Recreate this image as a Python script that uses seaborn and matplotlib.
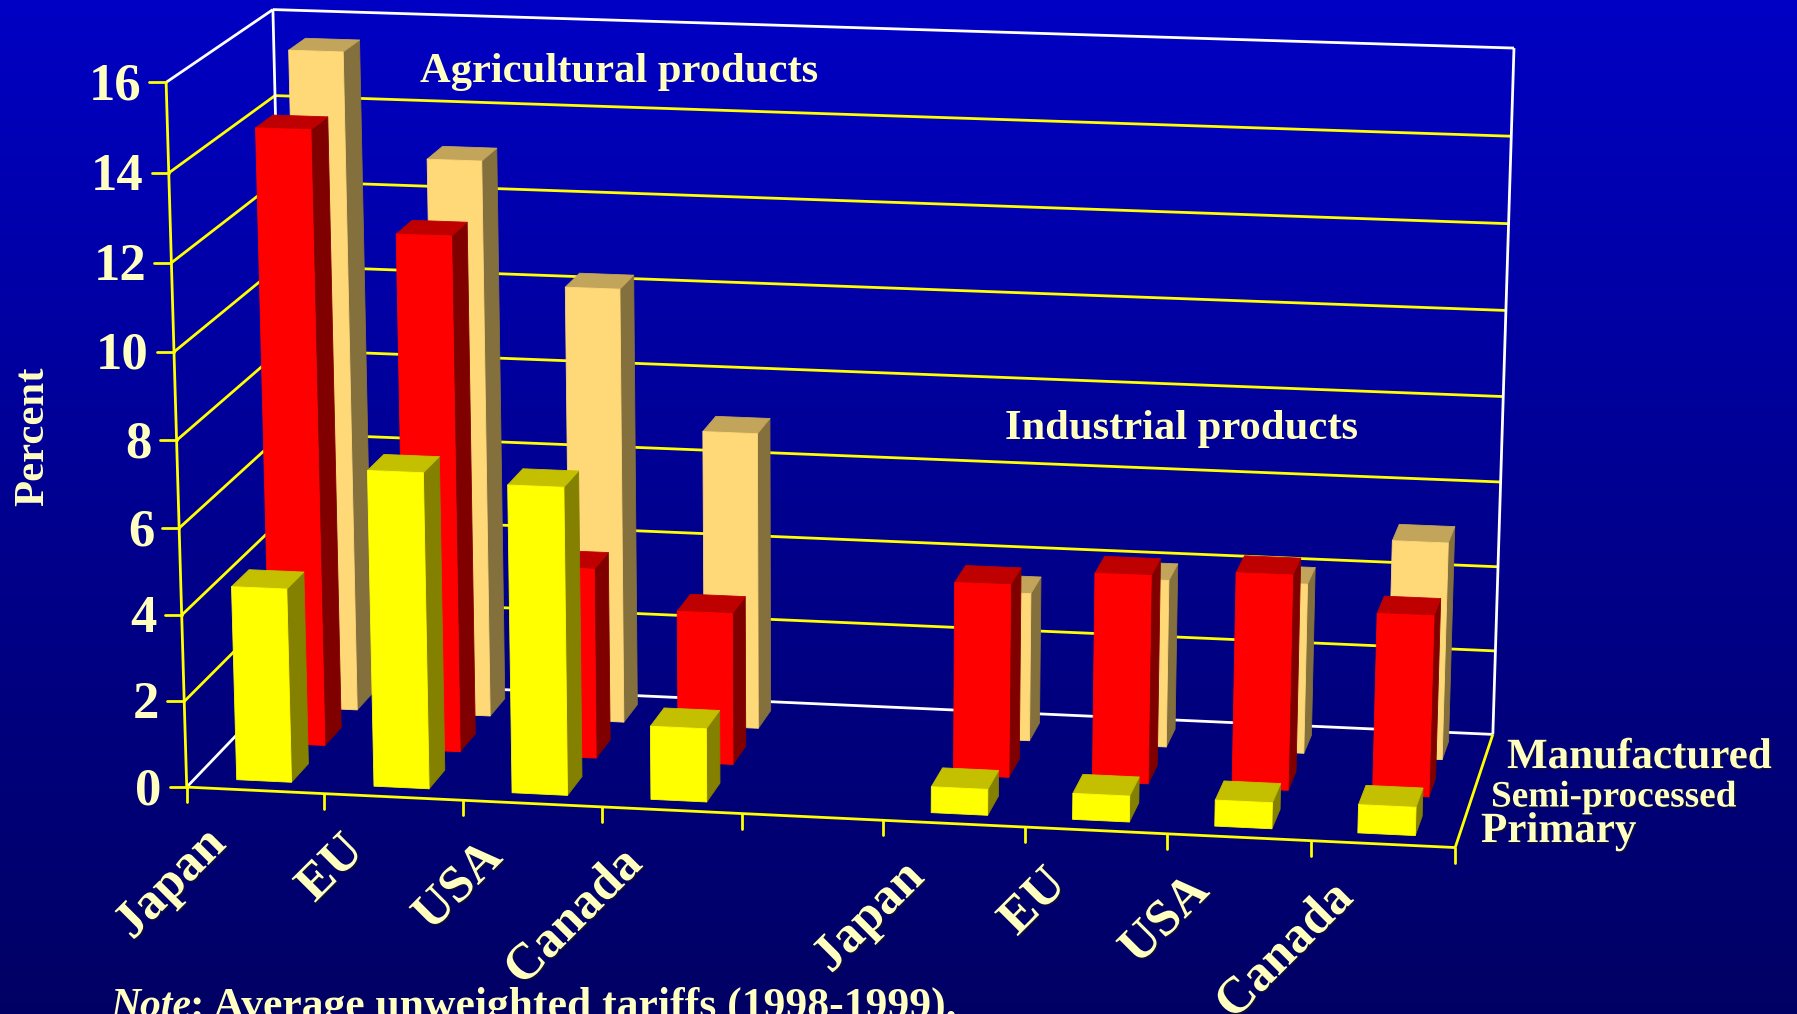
import numpy as np
import pandas as pd
import matplotlib
matplotlib.use('Agg')
import matplotlib.pyplot as plt
import matplotlib.patheffects as pe
from matplotlib.colors import LinearSegmentedColormap
from matplotlib.transforms import IdentityTransform
import seaborn as sns

# values (percent)
countries = ['Japan', 'EU', 'USA', 'Canada']
stages = ['Primary', 'Semi-processed', 'Manufactured']
agri_primary = [4.5, 7.3, 7.1, 1.7]
agri_semi = [14.3, 12.0, 4.45, 3.55]
agri_manuf = [15.5, 13.1, 10.25, 7.0]
ind_primary = [0.6, 0.6, 0.6, 0.65]
ind_semi = [4.5, 4.85, 5.0, 4.2]
ind_manuf = [3.5, 3.95, 4.0, 5.1]
y_ticks = [0, 2, 4, 6, 8, 10, 12, 14, 16]

W, H = 1797, 1014
TXT = '#FFFFC0'

sns.set_theme(style='white')
plt.rcParams['font.family'] = ['Liberation Serif', 'DejaVu Serif']
plt.rcParams['font.weight'] = 'bold'
palette = sns.color_palette(['#FFFF00', '#FF0000', '#FFD878'])
tops = ['#C4C000', '#BE0000', '#C2A55A']
sides = ['#848000', '#800000', '#84703C']

rows = []
for group, slots, series in [('Agri', [0, 1, 2, 3], [agri_primary, agri_semi, agri_manuf]),
                             ('Ind', [5, 6, 7, 8], [ind_primary, ind_semi, ind_manuf])]:
    for r, vals in enumerate(series):
        for s, c, v in zip(slots, countries, vals):
            rows.append({'group': group, 'slot': s, 'country': c, 'row': r, 'value': v})
bars = pd.DataFrame(rows)

fig = plt.figure(figsize=(W / 100, H / 100), dpi=100)

# gradient background
bg = fig.add_axes([0, 0, 1, 1], zorder=0)
grad = LinearSegmentedColormap.from_list('bg', ['#0000C4', '#000090', '#000064'])
bg.imshow(np.linspace(0, 1, 256).reshape(-1, 1), aspect='auto', cmap=grad)
bg.axis('off')

# square 3d axes bigger than the figure, camera matrix fitted to the box corners
side = W / H
ax = fig.add_axes([0, (1 - side) / 2, 1, side], projection='3d', zorder=1)
ax.set_axis_off()
ax.patch.set_visible(False)
ax.computed_zorder = False

XMAX, YMAX, ZMAX = 9.0, 3.0, 16.0
world = np.array([[0, 0, 0], [1, 0, 0], [0, 1, 0], [1, 1, 0], [0, 0, 1], [0, 1, 1], [1, 1, 1]], float)
image = np.array([[187, 788], [1455, 847], [289, 679], [1493, 735], [166, 82], [273, 10], [1514, 48]], float)
to_data = ax.transData.inverted()
uv = to_data.transform(np.c_[image[:, 0], H - image[:, 1]])
A, b = [], []
for (X, Y, Z), (u, v) in zip(world, uv):
    A.append([X, Y, Z, 1, 0, 0, 0, 0, -u * X, -u * Y, -u * Z])
    A.append([0, 0, 0, 0, X, Y, Z, 1, -v * X, -v * Y, -v * Z])
    b += [u, v]
p = np.linalg.lstsq(np.array(A), np.array(b), rcond=None)[0]
scale = np.diag([1 / XMAX, 1 / YMAX, 1 / ZMAX, 1.0])
# third row only orders faces, it stays negative so lines are not clipped away
cam = np.array([[p[0], p[1], p[2], p[3]],
                [p[4], p[5], p[6], p[7]],
                [0, 1, 0, -2],
                [p[8], p[9], p[10], 1]])
M = cam @ scale
ax.get_proj = lambda: M


def to_px(x, y, z):
    q = M @ np.array([x, y, z, 1.0])
    return ax.transData.transform((q[0] / q[3], q[1] / q[3]))


def seg(x, y, z, color, lw=2.0, zo=1):
    ax.plot(x, y, z, color=color, lw=lw, zorder=zo, solid_capstyle='butt')


# walls and grid
for t in y_ticks:
    wall = '#FFFFFF' if t in (0, 16) else '#FFFF00'
    seg([0, 0], [0, YMAX], [t, t], wall)
    seg([0, XMAX], [YMAX, YMAX], [t, t], wall)
    # tick stub to the left of the front edge
    x0, y0 = to_px(0, 0, t)
    fig.add_artist(plt.Line2D([x0 - 17, x0], [y0, y0], color='#FFFF00', lw=2, transform=IdentityTransform()))
    fig.text(x0 - 25, y0 - 4, str(t), color=TXT, fontsize=38, ha='right', va='center',
             transform=IdentityTransform())
seg([0, 0], [YMAX, YMAX], [0, ZMAX], '#FFFFFF')
seg([XMAX, XMAX], [YMAX, YMAX], [0, ZMAX], '#FFFFFF')
seg([0, 0], [0, 0], [0, ZMAX], '#FFFF00')
seg([0, XMAX], [0, 0], [0, 0], '#FFFF00')
seg([XMAX, XMAX], [0, YMAX], [0, 0], '#FFFF00')

# x ticks
for s in range(int(XMAX) + 1):
    x0, y0 = to_px(s, 0, 0)
    fig.add_artist(plt.Line2D([x0, x0], [y0, y0 - 15], color='#FFFF00', lw=2, transform=IdentityTransform()))

# bars, back row first
width, depth = 0.4, 0.5
zo = 10
for r in [2, 1, 0]:
    for _, b_ in bars[bars['row'] == r].sort_values('slot', ascending=False).iterrows():
        cols = ['none', tops[r], palette[r], 'none', 'none', sides[r]]
        edges = ['none', tops[r], palette[r], 'none', 'none', sides[r]]
        ax.bar3d(b_['slot'] + 0.5 - width / 2, r + 0.5 - depth / 2, 0, width, depth, b_['value'],
                 color=cols, edgecolor=edges, linewidth=0.6, shade=False, zorder=zo)
        zo += 1

shadow = [pe.withSimplePatchShadow(offset=(1, -1), shadow_rgbFace='k', alpha=0.6)]

# country labels
for s, c in zip([0, 1, 2, 3, 5, 6, 7, 8], countries * 2):
    x0, y0 = to_px(s + 0.5, 0, 0)
    fig.text(x0 - 53, y0 - 31, c, color=TXT, fontsize=37, rotation=45, ha='right', va='top',
             rotation_mode='anchor', transform=IdentityTransform(), path_effects=shadow)

fig.text(14, H - 436, 'Percent', color=TXT, fontsize=30.8, rotation=90, ha='left', va='center',
         transform=IdentityTransform())
fig.text(420, H - 72, 'Agricultural products', color=TXT, fontsize=30.7, ha='left', va='center',
         transform=IdentityTransform())
fig.text(1005, H - 429, 'Industrial products', color=TXT, fontsize=30.7, ha='left', va='center',
         transform=IdentityTransform())
fig.text(1507, H - 758, 'Manufactured', color=TXT, fontsize=31, ha='left', va='center',
         transform=IdentityTransform(), path_effects=shadow)
fig.text(1491, H - 797, 'Semi-processed', color=TXT, fontsize=26.8, ha='left', va='center',
         transform=IdentityTransform(), path_effects=shadow)
fig.text(1481, H - 832, 'Primary', color=TXT, fontsize=31, ha='left', va='center',
         transform=IdentityTransform(), path_effects=shadow)
fig.text(110, H - 1007, 'Note', color=TXT, fontsize=30, style='italic', ha='left', va='center',
         transform=IdentityTransform())
fig.text(190, H - 1007, ': Average unweighted tariffs (1998-1999).', color=TXT, fontsize=31.4, ha='left',
         va='center', transform=IdentityTransform())

fig.savefig('out.png', dpi=100)
